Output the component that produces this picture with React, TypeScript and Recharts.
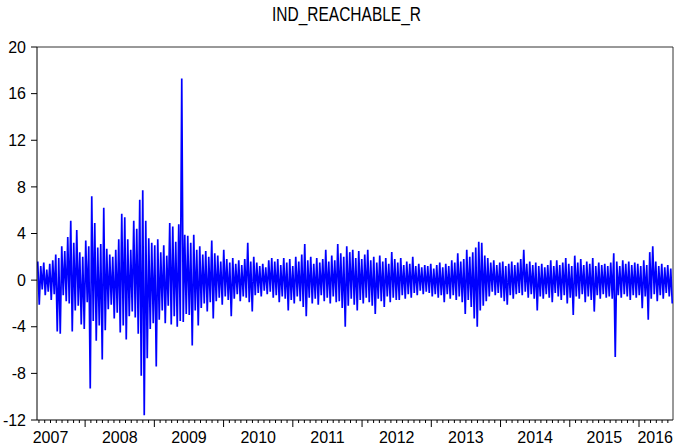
import React from "react"
import { LineChart, Line, XAxis, YAxis, ReferenceLine } from "recharts"

// upper / lower swing of the daily series, read left to right (~3px per pair)
const hi = [
  1.6, 1.2, 1.5, 0.9, 1.4, 1.7, 2.2, 1.9, 2.9, 2.5,
  3.7, 5.1, 3.2, 4.3, 2.4, 2.0, 3.4, 2.9, 7.2, 4.9,
  2.8, 3.1, 6.2, 2.7, 2.2, 2.0, 2.6, 3.5, 5.7, 5.4,
  3.5, 2.6, 5.1, 4.4, 6.9, 7.7, 5.1, 3.6, 3.2, 3.0,
  3.5, 2.4, 3.0, 2.1, 4.9, 4.6, 3.3, 4.8, 17.3, 3.9,
  3.8, 3.2, 3.9, 2.6, 2.9, 2.2, 2.5, 2.0, 3.4, 2.3,
  2.1, 1.6, 2.6, 1.8, 1.5, 1.9, 1.4, 1.7, 1.3, 1.8,
  3.2, 1.6, 2.0, 1.5, 1.2, 1.4, 1.1, 1.7, 1.9, 1.6,
  1.8, 1.3, 1.9, 1.5, 1.8, 1.2, 2.0, 1.6, 2.2, 3.1,
  1.7, 2.0, 1.4, 1.9, 1.5, 1.8, 2.6, 1.6, 2.1, 1.7,
  3.1, 2.3, 2.0, 2.9, 2.4, 2.6, 1.9, 2.5, 1.8, 2.2,
  2.6, 1.7, 2.0, 1.5, 2.1, 1.6, 1.9, 1.4, 2.4, 1.8,
  1.5, 1.9, 1.3, 1.6, 1.4, 2.0, 1.2, 1.4, 1.1, 1.3,
  1.2, 1.4, 1.0, 1.3, 1.5, 1.1, 1.4, 1.2, 1.7, 1.5,
  2.3, 1.6, 1.8, 2.6, 2.0, 2.4, 2.8, 3.3, 3.2, 2.1,
  1.9, 1.5, 1.7, 1.3, 1.5, 1.6, 1.2, 1.4, 1.6, 1.3,
  1.5, 1.8, 2.6, 1.4, 1.6, 1.3, 1.5, 1.2, 1.4, 1.1,
  1.3, 1.7, 1.2, 1.7, 1.3, 1.5, 1.9, 1.4, 1.2, 2.1,
  1.5, 1.8, 1.3, 1.6, 1.4, 1.9, 1.2, 1.5, 1.3, 1.4,
  1.2, 1.5, 2.3, 1.6, 1.2, 1.7, 1.4, 1.6, 1.3, 1.5,
  1.4, 1.2, 1.7, 1.3, 2.4, 2.9, 1.6, 1.2, 1.4, 1.1,
  1.3, 1.0,
]
const lo = [
  -2.1, -0.8, -1.3, -1.0, -1.7, -1.2, -4.4, -4.6, -1.3, -1.8,
  -2.0, -4.4, -2.6, -2.2, -3.8, -4.2, -1.9, -9.3, -3.5, -5.2,
  -3.9, -6.8, -4.3, -2.5, -2.1, -3.3, -2.8, -4.5, -3.9, -5.1,
  -3.1, -2.7, -3.2, -4.6, -8.2, -11.6, -6.7, -4.2, -3.7, -7.4,
  -3.4, -2.6, -3.7, -2.2, -3.8, -3.1, -4.0, -3.5, -3.6, -2.9,
  -3.0, -5.6, -2.6, -3.9, -2.4, -2.0, -2.7, -1.9, -3.3, -1.8,
  -1.5, -2.1, -1.4, -1.7, -3.1, -1.6, -1.2, -1.8, -1.4, -1.5,
  -1.9, -2.7, -1.3, -1.1, -1.4, -0.9, -1.2, -1.0, -1.5, -1.3,
  -1.9, -1.4, -1.6, -2.6, -1.7, -2.0, -1.4, -1.8, -2.3, -3.1,
  -1.5, -2.0, -1.6, -2.1, -1.3, -1.8, -1.5, -2.0, -1.4, -1.9,
  -1.8, -2.4, -4.0, -2.2, -1.6, -2.1, -2.6, -1.7, -2.0, -1.5,
  -1.9, -2.2, -2.9, -1.6, -1.8, -2.3, -1.4, -1.9, -1.5, -1.7,
  -1.7, -1.3, -1.6, -1.2, -1.5, -1.1, -1.3, -0.9, -1.2, -1.0,
  -1.1, -1.4, -1.2, -1.5, -1.3, -1.9, -1.2, -1.6, -1.3, -1.7,
  -1.4, -1.9, -2.9, -1.7, -2.3, -3.3, -4.0, -2.6, -2.2, -1.8,
  -1.4, -1.0, -1.3, -1.1, -1.5, -1.8, -2.1, -1.3, -1.6, -1.2,
  -1.1, -1.3, -1.0, -1.5, -1.2, -1.6, -2.6, -1.4, -1.6, -1.2,
  -1.5, -1.9, -1.1, -1.4, -1.7, -1.3, -2.0, -1.5, -3.0, -1.4,
  -1.6, -1.2, -1.9, -1.4, -1.7, -2.7, -1.3, -1.6, -1.2, -1.5,
  -1.4, -1.6, -6.6, -1.3, -1.5, -1.2, -1.4, -1.7, -1.3, -1.5,
  -1.3, -2.4, -1.4, -3.4, -1.6, -1.2, -1.8, -1.3, -1.6, -1.1,
  -1.4, -2.0,
]
const yTicks = [-12, -8, -4, 0, 4, 8, 12, 16, 20]
const years = [2007, 2008, 2009, 2010, 2011, 2012, 2013, 2014, 2015, 2016]

const T0 = 2007.305
const T1 = 2016.491
const W = 685
const H = 447
const PLOT_RIGHT = 673
const PLOT_BOTTOM = 420
const FONT = "'Liberation Sans', Arial, sans-serif"

const series = hi.flatMap((h, i) => [h, lo[i]])
const data = series.map((v, k) => ({
  t: T0 + ((k + 0.5) * (T1 - T0)) / series.length,
  v,
}))

const monthTicks = years
  .flatMap((y) => Array.from({ length: 12 }, (_, m) => y + m / 12))
  .filter((t) => t >= T0 && t <= T1)

const XTick = (props: any) => {
  const { x, payload } = props
  const t = payload.value
  const year = Math.floor(t + 1e-6)
  const m = Math.round((t - year) * 12)
  let label = null
  if (m === 6) {
    label = (
      <text x={x} y={443} textAnchor="middle" fontSize={16} fontFamily={FONT} fill="#000">
        {year}
      </text>
    )
  } else if (m === 0 && year + 0.5 > T1) {
    label = (
      <text x={PLOT_RIGHT} y={443} textAnchor="end" fontSize={16} fontFamily={FONT} fill="#000">
        {year}
      </text>
    )
  }
  return (
    <g>
      <line x1={x} x2={x} y1={PLOT_BOTTOM} y2={PLOT_BOTTOM + (m === 0 ? 7 : 3)} stroke="#000" />
      {label}
    </g>
  )
}

export default function App() {
  return (
    <div style={{ position: "absolute", left: 0, top: 0, width: W, height: H, background: "#fff" }}>
      <svg
        width={W}
        height={30}
        style={{ position: "absolute", left: 0, top: 0, pointerEvents: "none" }}
      >
        <text
          x={272}
          y={21}
          fontSize={20}
          fontFamily={FONT}
          textLength={149}
          lengthAdjust="spacingAndGlyphs"
          fill="#000"
        >
          IND_REACHABLE_R
        </text>
      </svg>
      <LineChart
        width={W}
        height={H}
        data={data}
        margin={{ top: 47, right: W - PLOT_RIGHT, bottom: 0, left: 0 }}
      >
        <XAxis
          dataKey="t"
          type="number"
          domain={[T0, T1]}
          ticks={monthTicks}
          interval={0}
          tick={<XTick />}
          tickLine={false}
          tickSize={0}
          tickMargin={0}
          height={H - PLOT_BOTTOM}
          axisLine={{ stroke: "#000" }}
          allowDataOverflow
        />
        <YAxis
          type="number"
          domain={[-12, 20]}
          ticks={yTicks}
          interval={0}
          width={37}
          tickSize={6}
          tickMargin={5}
          tickLine={{ stroke: "#000" }}
          axisLine={{ stroke: "#000" }}
          tick={{ fill: "#000", fontSize: 16, fontFamily: FONT }}
          allowDataOverflow
        />
        <ReferenceLine y={20} stroke="#333" />
        <ReferenceLine x={T1} stroke="#333" />
        <Line
          type="linear"
          dataKey="v"
          stroke="#0000ff"
          strokeWidth={1.7}
          dot={false}
          isAnimationActive={false}
        />
      </LineChart>
    </div>
  )
}
